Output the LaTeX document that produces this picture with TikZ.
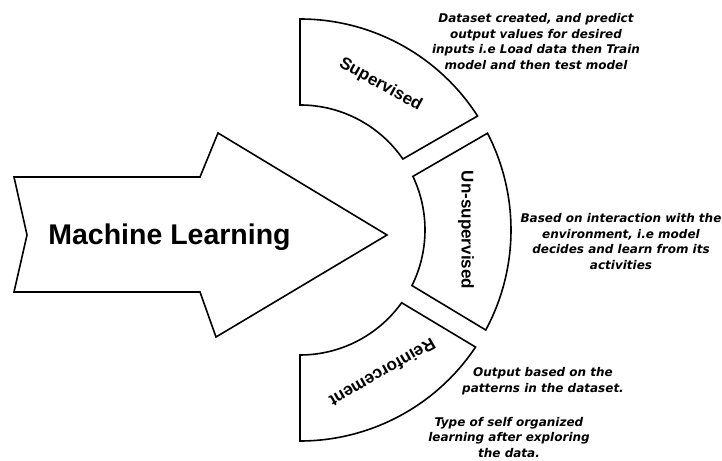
\documentclass[tikz,border=0pt]{standalone}
\usepackage{fontspec}
\setmainfont{Liberation Sans}
\newfontfamily\notefont{DejaVu Sans}
\usepackage{tikz}

\begin{document}
\begin{tikzpicture}[
    x=1pt, y=1pt,
    outline/.style={draw, line width=1.6pt, line join=miter},
    seglabel/.style={font=\bfseries\fontsize{17}{20}\selectfont},
    note/.style={align=center, font=\notefont\bfseries\itshape\fontsize{12}{15.7}\selectfont}
]
\useasboundingbox (0,0) rectangle (722,460);

% centre of the three segments
\coordinate (c) at (300,230);

% Machine Learning arrow
\draw[outline] (14,283) -- (27,225) -- (14,168) -- (200,168) -- (216,123)
    -- (387,225) -- (218,327) -- (200,283) -- cycle;
\node[anchor=base, font=\bfseries\fontsize{28.5}{32}\selectfont] (ml) at (169.5,215) {Machine Learning};

% Supervised
\draw[outline] ([shift={(90:125pt)}]c) -- ([shift={(90:211pt)}]c)
    arc[start angle=90, end angle=32.7, radius=211pt]
    -- ([shift={(34.6:125pt)}]c)
    arc[start angle=34.6, end angle=90, radius=125pt] -- cycle;
\node[seglabel, rotate=-29] (sup) at ([shift={(61:166pt)}]c) {Supervised};

% Un-supervised
\draw[outline] ([shift={(25.4:125pt)}]c) -- ([shift={(27.3:211pt)}]c)
    arc[start angle=27.3, end angle=-28.3, radius=211pt]
    -- ([shift={(-26.4:125pt)}]c)
    arc[start angle=-26.4, end angle=25.4, radius=125pt] -- cycle;
\node[seglabel, rotate=-90] (unsup) at ([shift={(0:166pt)}]c) {Un-supervised};

% Reinforcement
\draw[outline] ([shift={(-35.6:125pt)}]c) -- ([shift={(-33.7:211pt)}]c)
    arc[start angle=-33.7, end angle=-90, radius=211pt]
    -- ([shift={(-90:125pt)}]c)
    arc[start angle=-90, end angle=-35.6, radius=125pt] -- cycle;
\node[seglabel, rotate=-150] (reinf) at ([shift={(-60:165pt)}]c) {Reinforcement};

% notes
\node[note] (supnote) at (536,418.5) {Dataset created, and predict\\output values for desired\\inputs i.e Load data then Train\\model and then test model};
\node[note] (unsupnote) at (621,218.5) {Based on interaction with the\\environment, i.e model\\decides and learn from its\\activities};
\node[note] (reinfnote) at (543,79) {Output based on the\\patterns in the dataset.};
\node[note] (selfnote) at (509,22.5) {Type of self organized\\learning after exploring\\the data.};

\end{tikzpicture}
\end{document}
